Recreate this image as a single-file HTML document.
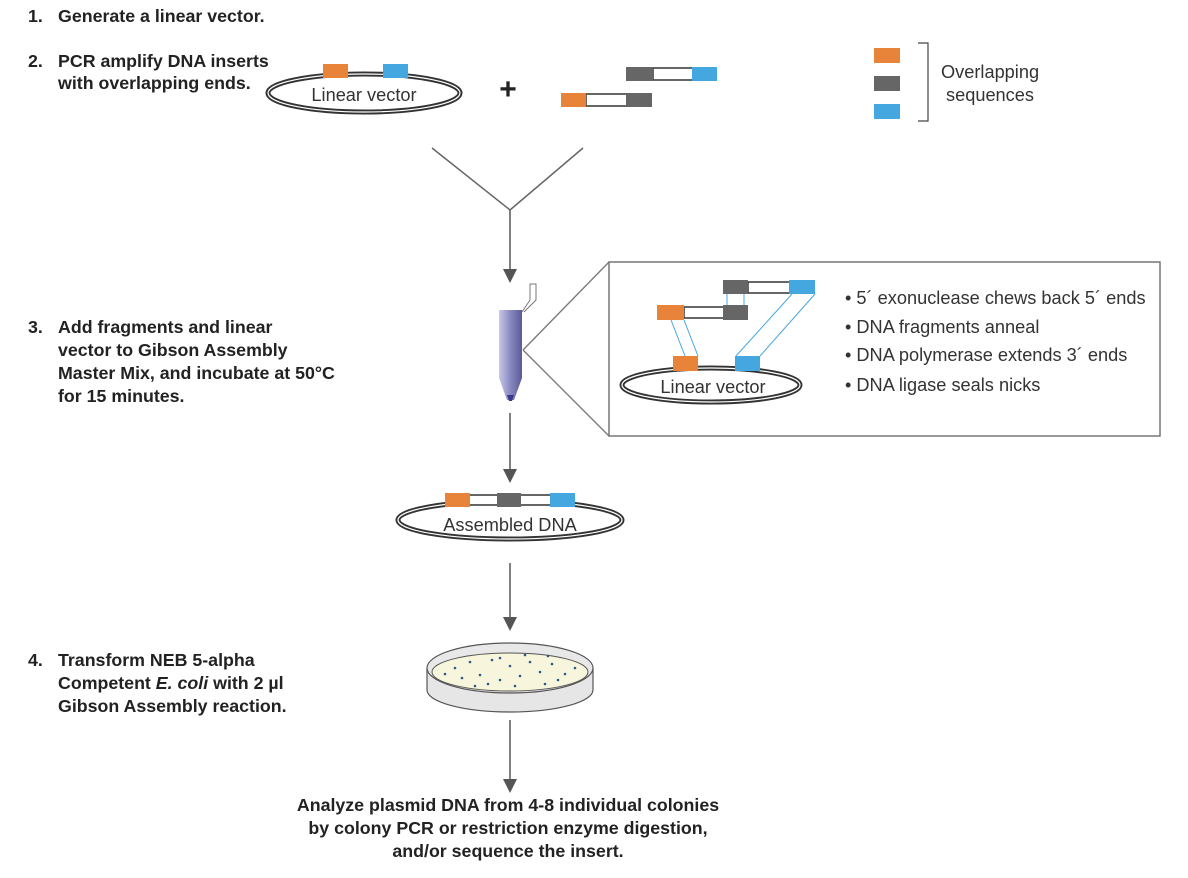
<!DOCTYPE html>
<html><head><style>
html,body{margin:0;padding:0;background:#fff;}
svg{display:block;font-family:"Liberation Sans",Arial,sans-serif;}
.b{font-weight:bold;font-size:17.8px;fill:#222;}
.n{font-size:18.2px;fill:#333;}
</style></head><body>
<svg width="1188" height="878" viewBox="0 0 1188 878">
<text class="b" x="28" y="22">1.</text><text class="b" x="58" y="22">Generate a linear vector.</text>
<text class="b" x="28" y="67">2.</text><text class="b" x="58" y="67">PCR amplify DNA inserts</text>
<text class="b" x="58" y="89">with overlapping ends.</text>
<text class="b" x="28" y="333">3.</text><text class="b" x="58" y="333">Add fragments and linear</text>
<text class="b" x="58" y="356">vector to Gibson Assembly</text>
<text class="b" x="58" y="379">Master Mix, and incubate at 50°C</text>
<text class="b" x="58" y="402">for 15 minutes.</text>
<text class="b" x="28" y="666">4.</text><text class="b" x="58" y="666">Transform NEB 5-alpha</text>
<text class="b" x="58" y="689">Competent <tspan font-style="italic">E. coli</tspan> with 2 µl</text>
<text class="b" x="58" y="712">Gibson Assembly reaction.</text>
<text class="b" x="508" y="811" text-anchor="middle">Analyze plasmid DNA from 4-8 individual colonies</text>
<text class="b" x="508" y="834" text-anchor="middle">by colony PCR or restriction enzyme digestion,</text>
<text class="b" x="508" y="857" text-anchor="middle">and/or sequence the insert.</text>

<ellipse cx="364" cy="93" rx="96" ry="19" fill="none" stroke="#333" stroke-width="5"/>
<ellipse cx="364" cy="93" rx="96" ry="19" fill="none" stroke="#fff" stroke-width="1.2"/>
<rect x="323" y="64" width="25" height="14" fill="#e8843a"/>
<rect x="383" y="64" width="25" height="14" fill="#44a7e0"/>
<text class="n" x="364" y="101" text-anchor="middle">Linear vector</text>
<text x="508" y="99" font-size="30" font-weight="bold" fill="#222" text-anchor="middle">+</text>
<rect x="653" y="68" width="40" height="12" fill="#fff" stroke="#333" stroke-width="1.5"/>
<rect x="626" y="67" width="27" height="14" fill="#666"/>
<rect x="692" y="67" width="25" height="14" fill="#44a7e0"/>
<rect x="586" y="94" width="41" height="12" fill="#fff" stroke="#333" stroke-width="1.5"/>
<rect x="561" y="93" width="25" height="14" fill="#e8843a"/>
<rect x="626" y="93" width="26" height="14" fill="#666"/>
<rect x="874" y="48" width="26" height="15" fill="#e8843a"/>
<rect x="874" y="76" width="26" height="15" fill="#666"/>
<rect x="874" y="104" width="26" height="15" fill="#44a7e0"/>
<path d="M918,43 H928 V121 H918" fill="none" stroke="#444" stroke-width="1.2"/>
<text class="n" x="941" y="78">Overlapping</text>
<text class="n" x="946" y="101">sequences</text>
<path d="M432,148 L510,210 L583,148" fill="none" stroke="#666" stroke-width="1.5"/>
<g stroke="#555" stroke-width="1.5">
<line x1="510" y1="210" x2="510" y2="272"/>
<line x1="510" y1="413" x2="510" y2="472"/>
<line x1="510" y1="563" x2="510" y2="620"/>
<line x1="510" y1="720" x2="510" y2="782"/>
</g>
<g fill="#555">
<path d="M503,269 L517,269 L510,283 Z"/>
<path d="M503,469 L517,469 L510,483 Z"/>
<path d="M503,617 L517,617 L510,631 Z"/>
<path d="M503,779 L517,779 L510,793 Z"/>
</g>
<defs><linearGradient id="tg" x1="0" x2="1"><stop offset="0" stop-color="#c8c8e8"/><stop offset="0.5" stop-color="#8888c0"/><stop offset="1" stop-color="#5a5a98"/></linearGradient></defs>
<path d="M499,310 H522 V378 L514,400 H507 L499,378 Z" fill="url(#tg)"/>
<path d="M507,395 H514 L512,401 H509 Z" fill="#3a3a90"/>
<path d="M522,312 L530,300 V284 H536 V300 L524,312" fill="#fff" stroke="#777" stroke-width="1"/>
<path d="M523,350 L609,262 M523,350 L609,436" stroke="#777" stroke-width="1.3" fill="none"/>
<rect x="609" y="262" width="551" height="174" fill="#fff" stroke="#777" stroke-width="1.5"/>
<path d="M671,320 L685,356 M684,320 L698,356" stroke="#44a7e0" stroke-width="1"/>
<path d="M727,294 V306 M744,294 V306" stroke="#44a7e0" stroke-width="1"/>
<path d="M792,294 L736,356 M815,294 L760,356" stroke="#44a7e0" stroke-width="1"/>
<ellipse cx="711" cy="385" rx="89" ry="17" fill="none" stroke="#333" stroke-width="5"/>
<ellipse cx="711" cy="385" rx="89" ry="17" fill="none" stroke="#fff" stroke-width="1.2"/>
<rect x="684" y="307" width="40" height="11" fill="#fff" stroke="#333" stroke-width="1.5"/>
<rect x="748" y="282" width="42" height="11" fill="#fff" stroke="#333" stroke-width="1.5"/>
<rect x="657" y="305" width="27" height="15" fill="#e8843a"/>
<rect x="723" y="305" width="25" height="15" fill="#666"/>
<rect x="723" y="280" width="25" height="14" fill="#666"/>
<rect x="789" y="280" width="26" height="14" fill="#44a7e0"/>
<rect x="673" y="356" width="25" height="15" fill="#e8843a"/>
<rect x="735" y="356" width="25" height="15" fill="#44a7e0"/>
<text class="n" x="713" y="393" text-anchor="middle">Linear vector</text>
<text class="n" x="845" y="304">• 5´ exonuclease chews back 5´ ends</text>
<text class="n" x="845" y="333">• DNA fragments anneal</text>
<text class="n" x="845" y="361">• DNA polymerase extends 3´ ends</text>
<text class="n" x="845" y="391">• DNA ligase seals nicks</text>
<ellipse cx="510" cy="520" rx="112" ry="19" fill="none" stroke="#333" stroke-width="5"/>
<ellipse cx="510" cy="520" rx="112" ry="19" fill="none" stroke="#fff" stroke-width="1.2"/>
<rect x="468" y="495" width="90" height="10" fill="#fff" stroke="#333" stroke-width="1.5"/>
<rect x="445" y="493" width="25" height="14" fill="#e8843a"/>
<rect x="497" y="493" width="24" height="14" fill="#666"/>
<rect x="550" y="493" width="25" height="14" fill="#44a7e0"/>
<text class="n" x="510" y="531" text-anchor="middle">Assembled DNA</text>
<path d="M427,668 V690 A83,22 0 0 0 593,690 V668" fill="#e6e6e6" stroke="#555" stroke-width="1.2"/>
<ellipse cx="510" cy="668" rx="83" ry="25" fill="#e8e8e8" stroke="#555" stroke-width="1.2"/>
<ellipse cx="510" cy="672" rx="78" ry="19" fill="#f7f6dc" stroke="#555" stroke-width="1"/>
<g fill="#2a5a88">
<circle cx="455" cy="668" r="1.3"/><circle cx="470" cy="662" r="1.3"/><circle cx="480" cy="675" r="1.3"/><circle cx="492" cy="660" r="1.3"/><circle cx="500" cy="680" r="1.3"/><circle cx="510" cy="666" r="1.3"/><circle cx="520" cy="676" r="1.3"/><circle cx="530" cy="662" r="1.3"/><circle cx="540" cy="672" r="1.3"/><circle cx="552" cy="664" r="1.3"/><circle cx="565" cy="674" r="1.3"/><circle cx="575" cy="668" r="1.3"/><circle cx="462" cy="678" r="1.3"/><circle cx="488" cy="684" r="1.3"/><circle cx="515" cy="686" r="1.3"/><circle cx="545" cy="684" r="1.3"/><circle cx="500" cy="658" r="1.3"/><circle cx="525" cy="655" r="1.3"/><circle cx="548" cy="656" r="1.3"/><circle cx="475" cy="686" r="1.3"/><circle cx="558" cy="680" r="1.3"/><circle cx="445" cy="674" r="1.3"/>
</g>
</svg>
</body></html>
